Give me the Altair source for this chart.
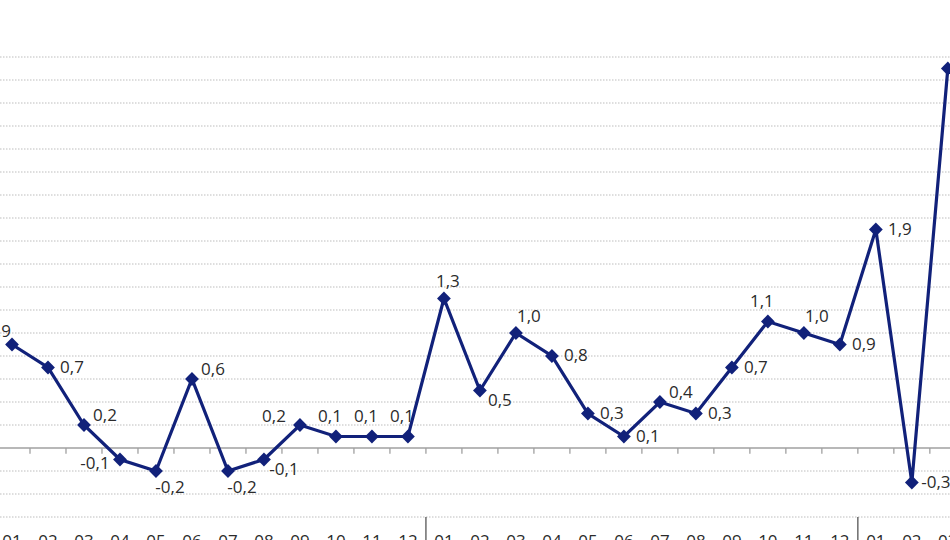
import altair as alt
import pandas as pd

# ---- data ----
months = ["01", "02", "03", "04", "05", "06", "07", "08", "09", "10", "11", "12",
          "01", "02", "03", "04", "05", "06", "07", "08", "09", "10", "11", "12",
          "01", "02", "03"]
values = [0.9, 0.7, 0.2, -0.1, -0.2, 0.6, -0.2, -0.1, 0.2, 0.1, 0.1, 0.1,
          1.3, 0.5, 1.0, 0.8, 0.3, 0.1, 0.4, 0.3, 0.7, 1.1, 1.0, 0.9,
          1.9, -0.3, 3.3]
label_pos = ["al", "r", "ru", "l", "b", "ru", "b", "rd", "lu", "a", "a", "a",
             "a2", "rd", "ar", "r", "r", "r", "ru", "r", "r", "a", "ar", "r",
             "r", "r", "r"]
grid_values = [-0.6, -0.4, -0.2, 0.2, 0.4, 0.6, 0.8, 1.0, 1.2, 1.4, 1.6, 1.8,
               2.0, 2.2, 2.4, 2.6, 2.8, 3.0, 3.2, 3.4]
year_breaks = [11.5, 23.5]

# ---- tables ----
df = pd.DataFrame({
    "i": list(range(len(values))),
    "month": months,
    "value": values,
    "pos": label_pos,
})
df["label"] = [f"{v:.1f}".replace(".", ",") for v in values]
grid_df = pd.DataFrame({"g": grid_values})
ticks_df = pd.DataFrame({"t": [k + 0.5 for k in range(-1, len(values))]})
breaks_df = pd.DataFrame({"t": year_breaks})

NAVY = "#11217a"
FONT = "Open Sans"
TXT = "#2b2b2b"
W, H = 950, 460

xscale = alt.Scale(domain=[-1 / 3, 26.06], nice=False, zero=False)
yscale = alt.Scale(domain=[-0.6, 3.4], nice=False, zero=False)

base = alt.Chart(df)

grid = alt.Chart(grid_df).mark_rule(color="#bdbdbd", strokeWidth=1, strokeDash=[1.5, 1.5]).encode(
    y=alt.Y("g:Q", scale=yscale, axis=None),
    x=alt.value(0), x2=alt.value(W),
)

zero_line = alt.Chart(pd.DataFrame({"z": [0]})).mark_rule(color="#a0a0a0", strokeWidth=1.3).encode(
    y=alt.Y("z:Q", scale=yscale),
    x=alt.value(0), x2=alt.value(W),
)

tick_marks = alt.Chart(ticks_df).mark_rule(color="#a0a0a0", strokeWidth=1.3).encode(
    x=alt.X("t:Q", scale=xscale, axis=None),
    y=alt.datum(0, scale=yscale),
    y2=alt.datum(-0.05),
)

separators = alt.Chart(breaks_df).mark_rule(color="#555555", strokeWidth=1.3).encode(
    x=alt.X("t:Q", scale=xscale),
    y=alt.datum(-0.6, scale=yscale),
    y2=alt.value(H + 30),
)

line = base.mark_line(color=NAVY, strokeWidth=3.2).encode(
    x=alt.X("i:Q", scale=xscale),
    y=alt.Y("value:Q", scale=yscale),
)

points = base.mark_point(shape="diamond", filled=True, color=NAVY, size=190, opacity=1).encode(
    x=alt.X("i:Q", scale=xscale),
    y=alt.Y("value:Q", scale=yscale),
)

offsets = {
    "r": (24, 0), "ru": (21, -9), "rd": (20, 10), "l": (-25, 4),
    "lu": (-26, -8), "al": (-13, -13), "a": (-6, -20), "a2": (4, -17),
    "ar": (13, -16), "b": (14, 17),
}
label_layers = []
for key, (dx, dy) in offsets.items():
    label_layers.append(
        base.transform_filter(alt.datum.pos == key).mark_text(
            dx=dx, dy=dy, font=FONT, fontSize=17, color=TXT,
            align="center", baseline="middle",
        ).encode(
            x=alt.X("i:Q", scale=xscale),
            y=alt.Y("value:Q", scale=yscale),
            text="label:N",
        )
    )

month_labels = base.mark_text(
    font=FONT, fontSize=17, color=TXT, align="center", baseline="top", dy=17,
).encode(
    x=alt.X("i:Q", scale=xscale),
    y=alt.datum(-0.6, scale=yscale),
    text="month:N",
)

chart = alt.layer(
    grid, zero_line, tick_marks, separators, line, points, *label_layers, month_labels
).properties(
    width=W, height=H,
    autosize=alt.AutoSizeParams(type="none"),
    padding={"left": 0, "top": 57, "right": 0, "bottom": 23},
).configure_view(stroke=None)

chart.save("out.html", embed_options={"renderer": "svg", "actions": False})
